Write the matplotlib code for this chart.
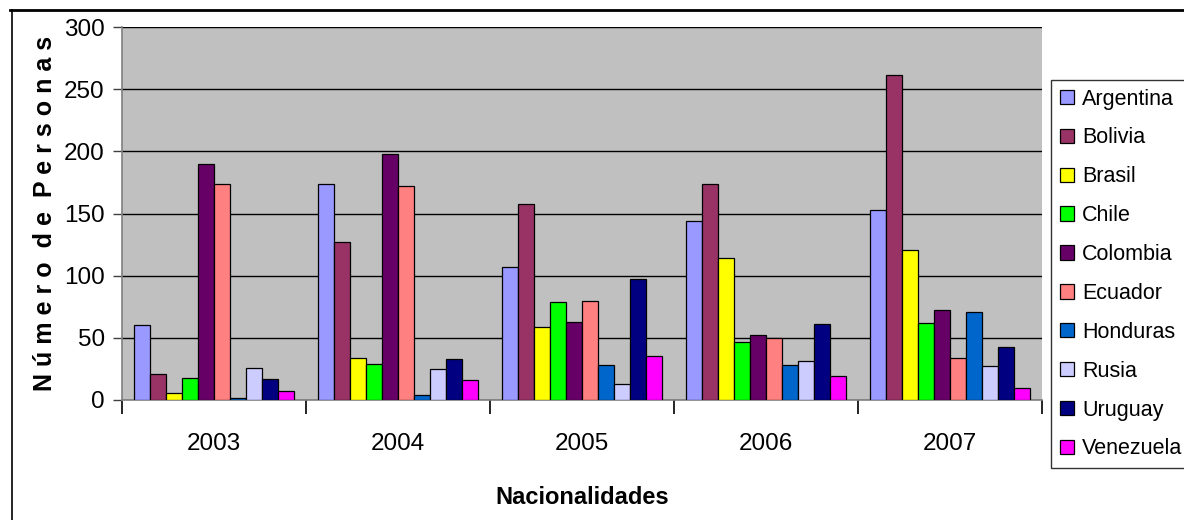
import matplotlib
matplotlib.use("Agg")
import matplotlib.pyplot as plt
import numpy as np
from matplotlib.lines import Line2D
from matplotlib.patches import Patch

years = ["2003", "2004", "2005", "2006", "2007"]
countries = ["Argentina", "Bolivia", "Brasil", "Chile", "Colombia",
             "Ecuador", "Honduras", "Rusia", "Uruguay", "Venezuela"]
colors = ["#9999FF", "#993366", "#FFFF00", "#00FF00", "#660066",
          "#FF8080", "#0066CC", "#CCCCFF", "#000080", "#FF00FF"]

argentina = [60, 174, 107, 144, 153]
bolivia = [21, 127, 158, 174, 261]
brasil = [6, 34, 59, 114, 121]
chile = [18, 29, 79, 47, 62]
colombia = [190, 198, 63, 52, 72]
ecuador = [174, 172, 80, 50, 34]
honduras = [2, 4, 28, 28, 71]
rusia = [26, 25, 13, 31, 27]
uruguay = [17, 33, 97, 61, 43]
venezuela = [7, 16, 35, 19, 10]
series = [argentina, bolivia, brasil, chile, colombia,
          ecuador, honduras, rusia, uruguay, venezuela]

plt.rcParams['font.family'] = ['Liberation Sans', 'DejaVu Sans']

fig = plt.figure(figsize=(11.84, 5.2), dpi=100)
ax = fig.add_axes([122/1184, 1-400/520, (1042-122)/1184, (400-27)/520])
ax.set_facecolor("#C0C0C0")

n = len(countries)
bw = 0.087
x = np.arange(len(years)) + 0.5
for i, (vals, c) in enumerate(zip(series, colors)):
    ax.bar(x + (i - (n-1)/2) * bw, vals, width=bw, color=c,
           edgecolor="black", linewidth=0.9, zorder=3)

ax.set_xlim(0, 5)
ax.set_ylim(0, 300)
ax.set_yticks(range(0, 301, 50))
ax.yaxis.grid(True, color="black", linewidth=1.0, zorder=1)
ax.set_axisbelow(True)
for s in ["top", "right"]:
    ax.spines[s].set_visible(False)
ax.spines["left"].set_color("#808080")
ax.spines["bottom"].set_color("#808080")
ax.spines["left"].set_linewidth(1.2)
ax.spines["bottom"].set_linewidth(1.2)

ax.set_xticks(x)
ax.set_xticklabels(years, fontsize=17.5)
ax.set_xticks(np.arange(0, 6), minor=True)
ax.tick_params(axis="x", which="major", length=0, pad=24)
ax.tick_params(axis="x", which="minor", length=10, width=1.2, color="black")
ax.tick_params(axis="y", length=6.5, width=1, color="#404040", labelsize=17.5, pad=6)

ax.set_xlabel("Nacionalidades", fontsize=17, fontweight="bold", labelpad=22)
words = "Número de Personas".split(" ")
ylab = "  ".join(" ".join(w) for w in words)
ax.set_ylabel(ylab, fontsize=18, fontweight="bold", labelpad=5)

handles = [Patch(facecolor=c, edgecolor="black", linewidth=0.9) for c in colors]
leg = fig.legend(handles, countries, loc="upper left",
                 bbox_to_anchor=(1051/1184, 1-80/520), fontsize=15.5,
                 frameon=True, fancybox=False, edgecolor="black",
                 handlelength=0.65, handleheight=0.65, handletextpad=0.4,
                 labelspacing=0.83, borderpad=0.4, borderaxespad=0)
leg.get_frame().set_linewidth(1.0)

# outer frame lines
fig.add_artist(Line2D([10/1184, 1.0], [1-10/520, 1-10/520], color="black", linewidth=2))
fig.add_artist(Line2D([12/1184, 12/1184], [0, 1-10/520], color="black", linewidth=1.2))

fig.savefig("out.png", dpi=100, facecolor="white")
